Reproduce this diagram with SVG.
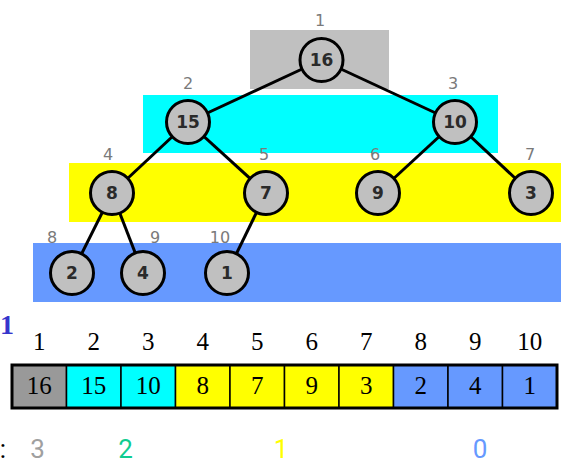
<svg xmlns="http://www.w3.org/2000/svg" width="566" height="465" viewBox="0 0 566 465">
<style>
.node circle{fill:#c0c0c0;stroke:#000;stroke-width:3}
.node text{font-family:"DejaVu Sans",sans-serif;font-weight:bold;font-size:17px;fill:#2a2a2a;text-anchor:middle}
.idx{font-family:"DejaVu Sans",sans-serif;font-size:16px;fill:#7a7a7a;text-anchor:middle}
.edges line{stroke:#000;stroke-width:3}
.cell{stroke:#000;stroke-width:1.5}
.ct{font-family:"Liberation Serif",serif;font-size:25px;fill:#000;text-anchor:middle}
.lv{font-family:Roboto,sans-serif;font-size:26px;text-anchor:middle}
</style>
<rect x="250" y="30" width="139" height="59" fill="#c0c0c0"/>
<rect x="143" y="95" width="355" height="58" fill="#00ffff"/>
<rect x="69" y="163" width="492" height="59" fill="#ffff00"/>
<rect x="33" y="243" width="528" height="59" fill="#6699ff"/>
<g class="idx">
<text x="320" y="26">1</text>
<text x="188" y="89">2</text>
<text x="453" y="89">3</text>
<text x="108" y="160">4</text>
<text x="264" y="160">5</text>
<text x="375" y="160">6</text>
<text x="530" y="160">7</text>
<text x="52" y="243">8</text>
<text x="155" y="243">9</text>
<text x="220" y="243">10</text>
</g>
<g class="edges">
<line x1="321.5" y1="60" x2="188" y2="122"/>
<line x1="321.5" y1="60" x2="455" y2="122"/>
<line x1="188" y1="122" x2="112" y2="193"/>
<line x1="188" y1="122" x2="266" y2="193"/>
<line x1="455" y1="122" x2="378" y2="193"/>
<line x1="455" y1="122" x2="531" y2="193"/>
<line x1="112" y1="193" x2="72" y2="273"/>
<line x1="112" y1="193" x2="143" y2="273"/>
<line x1="266" y1="193" x2="227" y2="273"/>
</g>
<g id="n1" class="node"><circle cx="321.5" cy="60" r="21.5"/><text x="321.5" y="66">16</text></g>
<g id="n2" class="node"><circle cx="188" cy="122" r="21.5"/><text x="188" y="128">15</text></g>
<g id="n3" class="node"><circle cx="455" cy="122" r="21.5"/><text x="455" y="128">10</text></g>
<g id="n4" class="node"><circle cx="112" cy="193" r="21.5"/><text x="112" y="199">8</text></g>
<g id="n5" class="node"><circle cx="266" cy="193" r="21.5"/><text x="266" y="199">7</text></g>
<g id="n6" class="node"><circle cx="378" cy="193" r="21.5"/><text x="378" y="199">9</text></g>
<g id="n7" class="node"><circle cx="531" cy="193" r="21.5"/><text x="531" y="199">3</text></g>
<g id="n8" class="node"><circle cx="72" cy="273" r="21.5"/><text x="72" y="279">2</text></g>
<g id="n9" class="node"><circle cx="143" cy="273" r="21.5"/><text x="143" y="279">4</text></g>
<g id="n10" class="node"><circle cx="227" cy="273" r="21.5"/><text x="227" y="279">1</text></g>
<text x="0" y="334" font-family="Liberation Serif,serif" font-weight="bold" font-size="28" fill="#3535cc">1</text>
<g id="array">
<g class="ct">
<text x="39.25" y="350">1</text>
<text x="93.75" y="350">2</text>
<text x="148.25" y="350">3</text>
<text x="202.75" y="350">4</text>
<text x="257.25" y="350">5</text>
<text x="311.75" y="350">6</text>
<text x="366.25" y="350">7</text>
<text x="420.75" y="350">8</text>
<text x="475.25" y="350">9</text>
<text x="529.75" y="350">10</text>
</g>
<rect class="cell" x="12" y="365" width="54.5" height="43" fill="#999999"/>
<rect class="cell" x="66.5" y="365" width="54.5" height="43" fill="#00ffff"/>
<rect class="cell" x="121" y="365" width="54.5" height="43" fill="#00ffff"/>
<rect class="cell" x="175.5" y="365" width="54.5" height="43" fill="#ffff00"/>
<rect class="cell" x="230" y="365" width="54.5" height="43" fill="#ffff00"/>
<rect class="cell" x="284.5" y="365" width="54.5" height="43" fill="#ffff00"/>
<rect class="cell" x="339" y="365" width="54.5" height="43" fill="#ffff00"/>
<rect class="cell" x="393.5" y="365" width="54.5" height="43" fill="#6699ff"/>
<rect class="cell" x="448" y="365" width="54.5" height="43" fill="#6699ff"/>
<rect class="cell" x="502.5" y="365" width="54.5" height="43" fill="#6699ff"/>
<rect x="12" y="365" width="545" height="43" fill="none" stroke="#000" stroke-width="3"/>
<g class="ct">
<text x="39.25" y="394">16</text>
<text x="93.75" y="394">15</text>
<text x="148.25" y="394">10</text>
<text x="202.75" y="394">8</text>
<text x="257.25" y="394">7</text>
<text x="311.75" y="394">9</text>
<text x="366.25" y="394">3</text>
<text x="420.75" y="394">2</text>
<text x="475.25" y="394">4</text>
<text x="529.75" y="394">1</text>
</g>
</g>
<g class="lv">
<text x="3" y="458" fill="#000">:</text>
<text x="37.5" y="458" fill="#a0a0a0">3</text>
<text x="125.5" y="458" fill="#10cc90">2</text>
<text x="281" y="458" fill="#ffff00">1</text>
<text x="480" y="458" fill="#6699ff">0</text>
</g>
</svg>
